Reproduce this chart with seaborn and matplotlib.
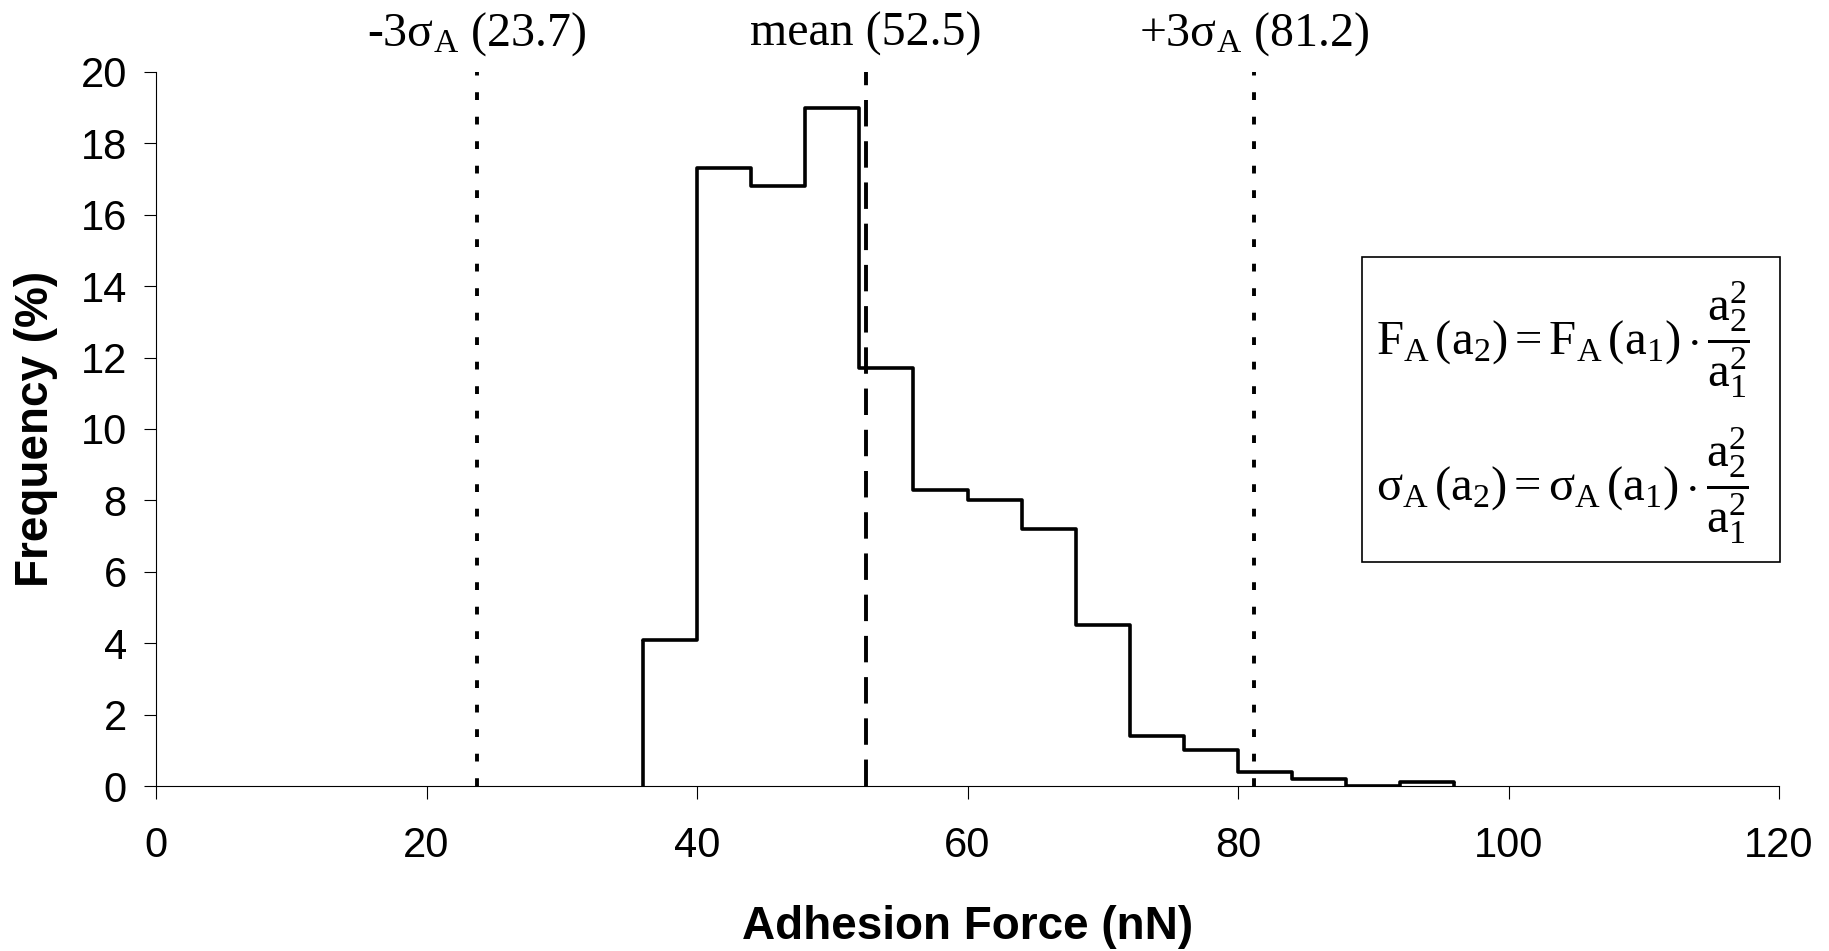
import numpy as np
import pandas as pd
import matplotlib
matplotlib.use("Agg")
import matplotlib.pyplot as plt
import seaborn as sns
from matplotlib.patches import Rectangle

# ---- data ----
bin_edges = [36, 40, 44, 48, 52, 56, 60, 64, 68, 72, 76, 80, 84, 88, 92, 96]
frequency = [4.1, 17.3, 16.8, 19.0, 11.7, 8.3, 8.0, 7.2, 4.5, 1.4, 1.0, 0.38, 0.2, 0.0, 0.1]
ref_values = [23.7, 52.5, 81.2]
ref_labels = [r"-3σ$_{\mathrm{A}}$ (23.7)", "mean (52.5)", r"+3σ$_{\mathrm{A}}$ (81.2)"]
x_ticks = [0, 20, 40, 60, 80, 100, 120]
y_ticks = [0, 2, 4, 6, 8, 10, 12, 14, 16, 18, 20]

centers = [(a + b) / 2 for a, b in zip(bin_edges[:-1], bin_edges[1:])]
df = pd.DataFrame({"force": centers, "freq": frequency})

sns.set_style("white")
plt.rcParams["font.family"] = ["Liberation Sans", "DejaVu Sans"]
plt.rcParams["text.color"] = "black"
plt.rcParams["axes.labelcolor"] = "black"
plt.rcParams["xtick.color"] = "black"
plt.rcParams["ytick.color"] = "black"
plt.rcParams["mathtext.fontset"] = "custom"
plt.rcParams["mathtext.rm"] = "Liberation Serif"
plt.rcParams["mathtext.it"] = "Liberation Serif:italic"
plt.rcParams["mathtext.bf"] = "Liberation Serif:bold"

fig = plt.figure(figsize=(18.29, 9.51), dpi=100)
ax = fig.add_axes([0.0853, 0.1735, 0.8874, 0.7508])

sns.histplot(data=df, x="force", weights="freq", bins=bin_edges, element="step",
             fill=False, color="black", linewidth=2.6, ax=ax)
for line in ax.lines:
    line.set_solid_joinstyle("round")
# vertical edges at both ends of the histogram
ax.vlines([bin_edges[0], bin_edges[-1]], 0, [frequency[0], frequency[-1]],
          color="black", linewidth=2.6)

styles = [(0, (2.0, 4.3)), (0, (6.8, 3.8)), (0, (2.0, 4.3))]
for v, ls in zip(ref_values, styles):
    ax.plot([v, v], [0, 20], color="black", linewidth=2.8, linestyle=ls,
            dash_capstyle="butt", solid_capstyle="butt")

for v, lab in zip(ref_values, ref_labels):
    ax.text(v, 1.053, lab, transform=ax.get_xaxis_transform(), ha="center", va="center",
            fontsize=34.5, family=["Liberation Serif"])

ax.set_xlim(0, 120)
ax.set_ylim(0, 20)
ax.set_xticks(x_ticks)
ax.set_yticks(y_ticks)
ax.tick_params(axis="both", labelsize=30, direction="out", length=9, width=0.8,
               color="black", labelcolor="black", bottom=True, left=True)
ax.tick_params(axis="x", pad=20)
ax.tick_params(axis="y", pad=12)
sns.despine(ax=ax)
for s in ["left", "bottom"]:
    ax.spines[s].set_linewidth(0.8)
    ax.spines[s].set_color("black")

ax.set_xlabel("Adhesion Force (nN)", fontsize=33, fontweight="bold", labelpad=28, color="black")
ax.set_ylabel("Frequency (%)", fontsize=33, fontweight="bold", labelpad=16, color="black")

# equation box
fig.patches.append(Rectangle((0.7447, 0.409), 0.2285, 0.3208, transform=fig.transFigure,
                             fill=False, edgecolor="black", linewidth=1.2))
eq1 = r"$\mathrm{F_{A}\,(a_{2}) = F_{A}\,(a_{1})\cdot\dfrac{a_{2}^{2}}{a_{1}^{2}}}$"
eq2 = r"$\mathrm{σ_{A}\,(a_{2}) = σ_{A}\,(a_{1})\cdot\dfrac{a_{2}^{2}}{a_{1}^{2}}}$"
fig.text(0.7525, 1 - 340 / 951, eq1, fontsize=35, ha="left", va="center")
fig.text(0.7525, 1 - 486 / 951, eq2, fontsize=35, ha="left", va="center")

fig.savefig("out.png", dpi=100, facecolor="white")
